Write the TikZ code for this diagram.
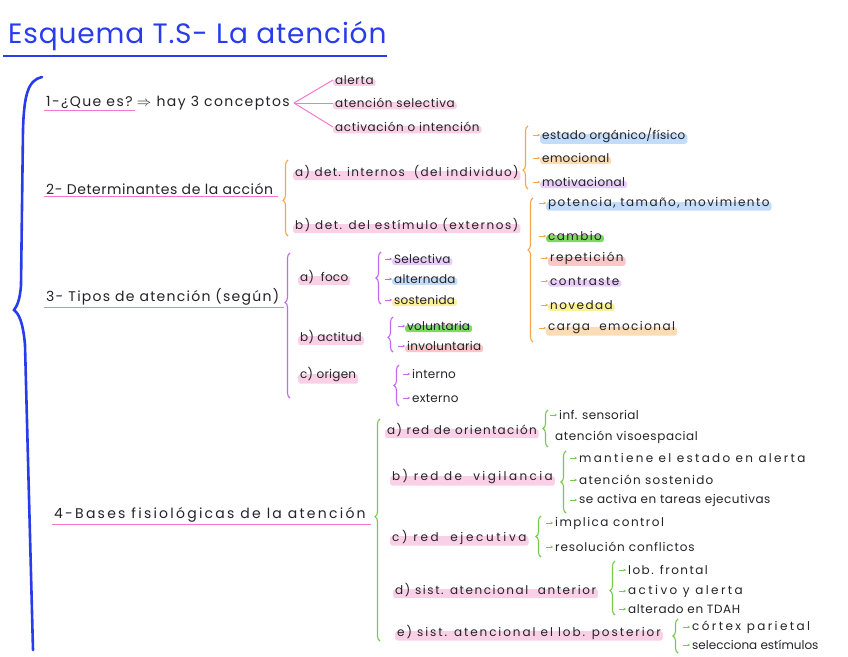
\documentclass[tikz,border=0pt]{standalone}
\usepackage{fontspec}
\setmainfont{Poppins}
\usetikzlibrary{decorations.pathreplacing,calc,arrows.meta}
\definecolor{ink}{RGB}{35,35,40}
\definecolor{tblue}{RGB}{40,60,235}
\definecolor{pline}{RGB}{245,120,205}
\definecolor{bor}{RGB}{245,165,75}
\definecolor{bpu}{RGB}{195,105,235}
\definecolor{bgr}{RGB}{120,200,80}
\definecolor{hpink}{RGB}{250,208,230}
\definecolor{hblue}{RGB}{195,220,250}
\definecolor{horange}{RGB}{252,220,180}
\definecolor{hpurple}{RGB}{232,205,248}
\definecolor{hgreen}{RGB}{125,218,95}
\definecolor{hyellow}{RGB}{250,240,150}
\definecolor{hred}{RGB}{250,198,200}
\begin{document}
\begin{tikzpicture}[x=1pt,y=-1pt,
  every node/.style={anchor=west,inner xsep=2pt,inner ysep=1.5pt,text=ink,font=\fontsize{12}{14}\selectfont},
  head/.style={font=\fontsize{14}{16}\selectfont},
  ls/.style={execute at begin node=\addfontfeature{LetterSpace=#1}},
  hl/.style={path picture={\fill[#1,rounded corners=2.5pt] (path picture bounding box.south west) rectangle ([yshift=1pt]path picture bounding box.east);}},
  br/.style={decorate,decoration={brace,amplitude=5pt,aspect=#1},line width=1.1pt},
  arr/.style={-{Stealth[length=2.5pt,width=2.5pt]},line width=0.7pt},
  uline/.style={pline,line width=1pt}]
\useasboundingbox (0,0) rectangle (848,656);
% title
\node[text=tblue,font=\fontsize{28}{31}\selectfont,ls=3] (title) at (6,36) {Esquema T.S- La atención};
\draw[tblue,line width=2.6pt] (3,56) -- (387,56);
% big brace
\draw[tblue,line width=2.6pt,line cap=round] (42,77) .. controls (28,80) and (24,95) .. (23,130) -- (21,285) .. controls (20,300) and (17,306) .. (14,310) .. controls (19,314) and (23,322) .. (25,345) -- (33,650);
% ---------- 1
\node[head,ls=10] (n1a) at (44,103) {1-¿Que es?};
\node[head,ls=10] (n1b) at (n1a.east) {$\Rightarrow$ hay 3 conceptos};
\draw[uline] (n1a.south west) -- (n1a.south east);
\node[hl=hpink,ls=5] (c1) at (333,80) {alerta};
\node[hl=hpink,ls=5] (c2) at (333,103) {atención selectiva};
\node[hl=hpink,ls=5] (c3) at (333,127) {activación o intención};
\foreach \c in {c1,c2,c3} \draw[pline,line width=1pt] ([xshift=2pt]n1b.east) -- (\c.west);
% ---------- 2
\node[head,ls=4] (n2) at (44,189) {2- Determinantes de la acción};
\draw[uline] (n2.south west) -- ([xshift=3pt]n2.south east);
\draw[bor,br=0.47] (288,236) -- (288,160);
\node[hl=hpink,ls=11] (n2a) at (293,172) {a) det. internos\ \ (del individuo)};
\node[hl=hpink,ls=13] (n2b) at (293,225) {b) det. del estímulo (externos)};
\draw[bor,br=0.3] (528,189) -- (528,126);
\node[hl=hblue,ls=3] (i1) at (540,135) {estado orgánico/físico};
\node[hl=horange,ls=3] (i2) at (540,158) {emocional};
\node[hl=hpurple,ls=3] (i3) at (540,182) {motivacional};
\draw[bor,br=0.64] (533,342) -- (533,198);
\node[hl=hblue,ls=12] (j1) at (546,203) {potencia, tamaño, movimiento};
\node[hl=hgreen,ls=12] (j2) at (546,236) {cambio};
\node[hl=hred,ls=12] (j3) at (548,258) {repetición};
\node[hl=hpurple,ls=12] (j4) at (548,281) {contraste};
\node[hl=hyellow,ls=12] (j5) at (548,305) {novedad};
\node[hl=horange,ls=12] (j6) at (546,328) {carga\ \ emocional};
\foreach \c in {i1,i2,i3,j1,j2,j3,j4,j5,j6} \draw[bor,arr] ([xshift=-7pt]\c.west) -- (\c.west);
% ---------- 3
\node[head,ls=9] (n3) at (44,297) {3- Tipos de atención (según)};
\draw[uline] (n3.south west) -- ([xshift=3pt]n3.south east);
\draw[bpu,br=0.66] (290,398) -- (290,253);
\node[hl=hpink,ls=2] (n3a) at (298,277) {a)\ \ foco};
\node[hl=hpink,ls=2] (n3b) at (298,337) {b) actitud};
\node[hl=hpink,ls=2] (n3c) at (298,375) {c) origen};
\draw[bpu,br=0.5] (381,304) -- (381,252);
\node[hl=hpurple,ls=2] (k1) at (392,259) {Selectiva};
\node[hl=hblue,ls=2] (k2) at (392,279) {alternada};
\node[hl=hyellow,ls=2] (k3) at (392,300) {sostenida};
\draw[bpu,br=0.42] (393,352) -- (393,317);
\node[hl=hgreen,ls=2] (k4) at (405,326) {voluntaria};
\node[hl=hred,ls=2] (k5) at (405,346) {involuntaria};
\draw[bpu,br=0.5] (399,406) -- (399,365);
\node[ls=2] (k6) at (410,374) {interno};
\node[ls=2] (k7) at (410,398) {externo};
\foreach \c in {k1,k2,k3,k4,k5,k6,k7} \draw[bpu,arr] ([xshift=-7pt]\c.west) -- (\c.west);
% ---------- 4
\node[head,ls=16] (n4) at (52,515) {4-Bases fisiológicas de la atención};
\draw[uline] (n4.south west) -- ([xshift=3pt]n4.south east);
\draw[bgr,br=0.56] (380,641) -- (380,419);
\node[hl=hpink,ls=11] (n4a) at (385,430) {a) red de orientación};
\node[hl=hpink,ls=20] (n4b) at (390,477) {b) red de\ \ vigilancia};
\node[hl=hpink,ls=22] (n4c) at (390,537) {c) red\ \ ejecutiva};
\node[hl=hpink,ls=13] (n4d) at (393,590) {d) sist. atencional\ \ anterior};
\node[hl=hpink,ls=16] (n4e) at (395,632) {e) sist. atencional el lob. posterior};
\draw[bgr,br=0.5] (548,447) -- (548,410);
\node[ls=3] (m1) at (557,415) {inf. sensorial};
\node[ls=5] (m2) at (553,437) {atención visoespacial};
\draw[bgr,br=0.5] (566,513) -- (566,451);
\node[ls=19] (m3) at (577,458) {mantiene el estado en alerta};
\node[ls=10] (m4) at (577,480) {atención sostenido};
\node[ls=4] (m5) at (577,500) {se activa en tareas ejecutivas};
\draw[bgr,br=0.5] (541,557) -- (541,516);
\node[ls=12] (m6) at (553,523) {implica control};
\node[ls=7] (m7) at (553,547) {resolución conflictos};
\draw[bgr,br=0.45] (615,615) -- (615,561);
\node[ls=12] (m8) at (626,570) {lob. frontal};
\node[ls=20] (m9) at (626,591) {activo y alerta};
\node[ls=5] (m10) at (626,609) {alterado en TDAH};
\draw[bgr,br=0.5] (678,653) -- (678,619);
\node[ls=20] (m11) at (690,627) {córtex parietal};
\node[ls=0] (m12) at (690,645) {selecciona estímulos};
\foreach \c in {m1,m3,m4,m5,m6,m7,m8,m9,m10,m11,m12} \draw[bgr,arr] ([xshift=-7pt]\c.west) -- (\c.west);
\end{tikzpicture}
\end{document}
